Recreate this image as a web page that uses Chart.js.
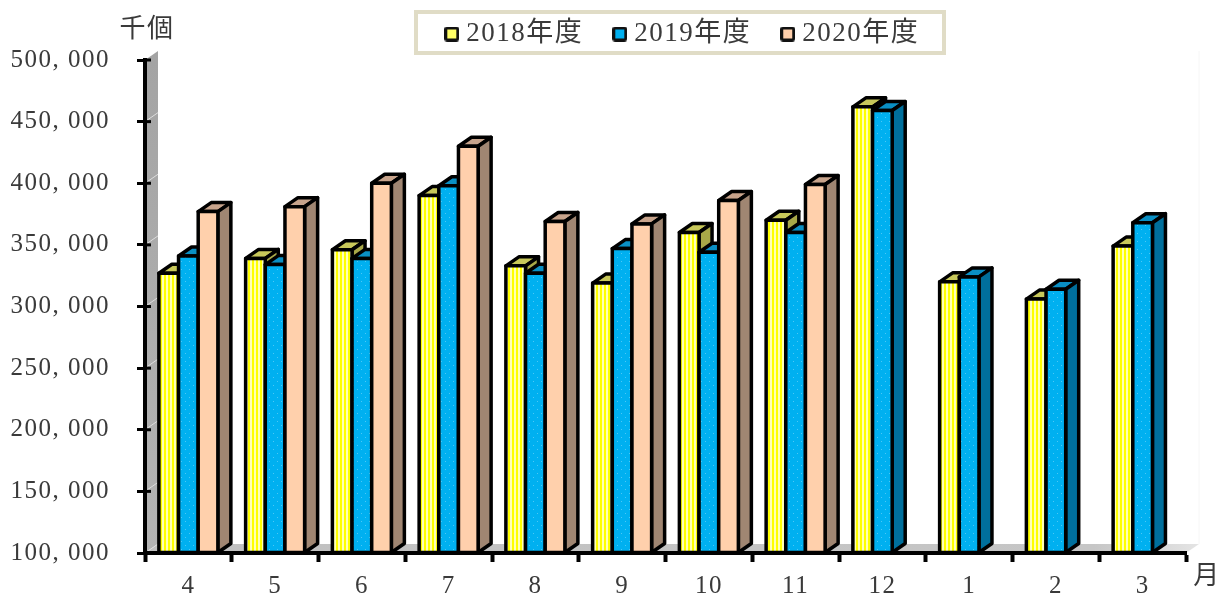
<!DOCTYPE html>
<html>
<head>
<meta charset="utf-8">
<script src="https://cdn.jsdelivr.net/npm/chart.js@4"></script>
<style>
  body { margin: 0; background: #fff; }
  canvas { display: block; }
</style>
</head>
<body>
<canvas id="chart" width="1222" height="595"></canvas>
<script>
const months = ['4', '5', '6', '7', '8', '9', '10', '11', '12', '1', '2', '3'];
const fy2018 = [327000, 339000, 346000, 390000, 333000, 319000, 360000, 370000, 462000, 320000, 306000, 349000];
const fy2019 = [341000, 334000, 339000, 398000, 327000, 347000, 344000, 360000, 459000, 324000, 314000, 368000];
const fy2020 = [377000, 381000, 400000, 430000, 369000, 367000, 386000, 399000, null, null, null, null];
const seriesNames = ['2018年度', '2019年度', '2020年度'];
const yTicks = [100000, 150000, 200000, 250000, 300000, 350000, 400000, 450000, 500000];

const FONT = '"Liberation Serif", "Noto Sans CJK JP", serif';
const TEXT = '#3a3a3a';
const DX = 13, DY = -9;   // 3d depth of the bars

const topColors = ['#c8c85a', '#0a8fc4', '#c8a48c'];
const sideColors = ['#a8a848', '#006f9c', '#a08672'];
const swatchColors = ['#ffff66', '#00b0f0', '#ffd0ac'];

function stripes() {
    const c = document.createElement('canvas');
    c.width = 4; c.height = 4;
    const g = c.getContext('2d');
    g.fillStyle = '#ffff00';
    g.fillRect(0, 0, 4, 4);
    g.fillStyle = '#ffffb8';
    g.fillRect(2, 0, 2, 4);
    return g.createPattern(c, 'repeat');
}
function dots() {
    const c = document.createElement('canvas');
    c.width = 8; c.height = 8;
    const g = c.getContext('2d');
    g.fillStyle = '#00b0f0';
    g.fillRect(0, 0, 8, 8);
    g.fillStyle = '#4cc8f6';
    g.fillRect(1, 1, 1, 1);
    g.fillRect(5, 5, 1, 1);
    return g.createPattern(c, 'repeat');
}
// legend box, wider than the room chart.js leaves so the text sits close to it
function swatch(color) {
    const c = document.createElement('canvas');
    c.width = 15; c.height = 15;
    const g = c.getContext('2d');
    g.fillStyle = '#111';
    g.beginPath();
    g.roundRect(0, 0, 15, 15, 3);
    g.fill();
    g.fillStyle = color;
    g.fillRect(3, 3, 9, 9);
    return c;
}

function poly(ctx, pts, fill) {
    ctx.beginPath();
    pts.forEach(function(p, i) {
        if (i === 0) ctx.moveTo(p[0], p[1]);
        else ctx.lineTo(p[0], p[1]);
    });
    ctx.closePath();
    ctx.fillStyle = fill;
    ctx.fill();
    ctx.stroke();
}

const depthPlugin = {
    id: 'depth',
    beforeUpdate(chart) {
        chart.ctx.letterSpacing = '1.5px';
    },
    beforeLayout(chart) {
        // the label padding also sets the legend height, keep the plot where it belongs
        const lg = chart.legend;
        if (!lg.origFit) {
            lg.origFit = lg.fit;
            lg.fit = function() {
                lg.origFit();
                lg.height = 60;
            };
        }
    },
    afterLayout(chart) {
        // legend sits above the plot, right of centre
        const lg = chart.legend;
        lg.left += 92;
        lg.right += 92;
        lg.top = -15;
    },
    beforeDraw(chart) {
        const ctx = chart.ctx, a = chart.chartArea, y = chart.scales.y;
        ctx.save();
        // left wall
        const wall = ctx.createLinearGradient(0, a.top, 0, a.bottom);
        wall.addColorStop(0, '#a4a4a4');
        wall.addColorStop(1, '#b4b4b4');
        ctx.fillStyle = wall;
        ctx.beginPath();
        ctx.moveTo(a.left, a.top);
        ctx.lineTo(a.left + DX, a.top + DY);
        ctx.lineTo(a.left + DX, a.bottom + DY);
        ctx.lineTo(a.left, a.bottom);
        ctx.fill();
        // floor
        const floor = ctx.createLinearGradient(a.left, 0, a.right + DX, 0);
        floor.addColorStop(0, '#c0c0c0');
        floor.addColorStop(0.9, '#c6c6c6');
        floor.addColorStop(1, '#e4e4e4');
        ctx.fillStyle = floor;
        ctx.beginPath();
        ctx.moveTo(a.left, a.bottom);
        ctx.lineTo(a.left + DX, a.bottom + DY);
        ctx.lineTo(a.right + DX, a.bottom + DY);
        ctx.lineTo(a.right, a.bottom);
        ctx.fill();
        // light grid marks on the wall
        ctx.strokeStyle = '#dedede';
        ctx.lineWidth = 1;
        yTicks.slice(0, -1).forEach(function(v) {
            const py = y.getPixelForValue(v);
            ctx.beginPath();
            ctx.moveTo(a.left, py);
            ctx.lineTo(a.left + DX, py + DY);
            ctx.stroke();
        });
        ctx.strokeStyle = '#f6f6f6';
        ctx.beginPath();
        ctx.moveTo(a.right + DX, a.top + DY);
        ctx.lineTo(a.right + DX, a.bottom + DY);
        ctx.stroke();
        ctx.restore();
    },
    // datasets are painted by afterDatasetsDraw, left one first
    beforeDatasetDraw() {
        return false;
    },
    afterDatasetsDraw(chart) {
        const ctx = chart.ctx, a = chart.chartArea, y = chart.scales.y;
        ctx.save();
        ctx.strokeStyle = '#000';
        ctx.lineWidth = 3.5;
        ctx.lineJoin = 'round';
        chart.data.datasets.forEach(function(ds, i) {
            chart.getDatasetMeta(i).data.forEach(function(bar, j) {
                if (ds.data[j] === null) return;
                const l = bar.x - bar.width / 2, r = bar.x + bar.width / 2;
                poly(ctx, [[l, bar.y], [l + DX, bar.y + DY], [r + DX, bar.y + DY], [r, bar.y]], topColors[i]);
                poly(ctx, [[r, bar.y], [r + DX, bar.y + DY], [r + DX, bar.base + DY], [r, bar.base]], sideColors[i]);
                bar.draw(ctx);
                ctx.strokeRect(l, bar.y, bar.width, bar.base - bar.y);
            });
        });
        // ticks cross the axis
        ctx.lineWidth = 3;
        yTicks.forEach(function(v) {
            const py = y.getPixelForValue(v);
            ctx.beginPath();
            ctx.moveTo(a.left, py);
            ctx.lineTo(a.left + 6, py);
            ctx.stroke();
        });
        ctx.restore();
    },
    afterDraw(chart) {
        const ctx = chart.ctx;
        ctx.save();
        // frame around the legend
        ctx.strokeStyle = '#e0dcc6';
        ctx.lineWidth = 4;
        ctx.strokeRect(416, 12, 528, 41);
        ctx.fillStyle = TEXT;
        ctx.font = '26px ' + FONT;
        ctx.textAlign = 'center';
        ctx.textBaseline = 'middle';
        ctx.fillText('千個', 147, 30);
        ctx.fillText('月', 1207, 577);
        ctx.restore();
    }
};

const swatches = swatchColors.map(swatch);

new Chart(document.getElementById('chart'), {
    type: 'bar',
    plugins: [depthPlugin],
    data: {
        labels: months,
        datasets: [
            { label: seriesNames[0], data: fy2018, base: 100000, backgroundColor: stripes() },
            { label: seriesNames[1], data: fy2019, base: 100000, backgroundColor: dots() },
            { label: seriesNames[2], data: fy2020, base: 100000, backgroundColor: '#ffd0ac' }
        ]
    },
    options: {
        responsive: false,
        animation: false,
        categoryPercentage: 0.68,
        barPercentage: 1,
        layout: { padding: { left: 0, right: 36, top: 0, bottom: 0 } },
        plugins: {
            tooltip: { enabled: false },
            legend: {
                position: 'top',
                labels: {
                    usePointStyle: true,
                    pointStyleWidth: 2,
                    padding: 35.5,
                    color: TEXT,
                    font: { family: FONT, size: 27 },
                    generateLabels() {
                        return seriesNames.map(function(name, i) {
                            return { text: name, pointStyle: swatches[i], datasetIndex: i, fontColor: TEXT };
                        });
                    }
                }
            }
        },
        scales: {
            x: {
                afterFit(scale) { scale.height = 40; },
                border: { color: '#000', width: 4 },
                grid: { offset: true, drawOnChartArea: false, tickColor: '#000', tickWidth: 4, tickLength: 9 },
                ticks: { color: TEXT, padding: 9, maxRotation: 0, font: { family: FONT, size: 25 } }
            },
            y: {
                min: 100000,
                max: 500000,
                afterFit(scale) { scale.width = 145; },
                afterBuildTicks(scale) { scale.ticks = yTicks.map(function(v) { return { value: v }; }); },
                border: { color: '#000', width: 4 },
                grid: { drawOnChartArea: false, tickColor: '#000', tickWidth: 3, tickLength: 8 },
                ticks: {
                    color: TEXT,
                    padding: 27,
                    font: { family: FONT, size: 25 },
                    callback(v) { return Math.floor(v / 1000) + ', 000'; }
                }
            }
        }
    }
});
</script>
</body>
</html>
